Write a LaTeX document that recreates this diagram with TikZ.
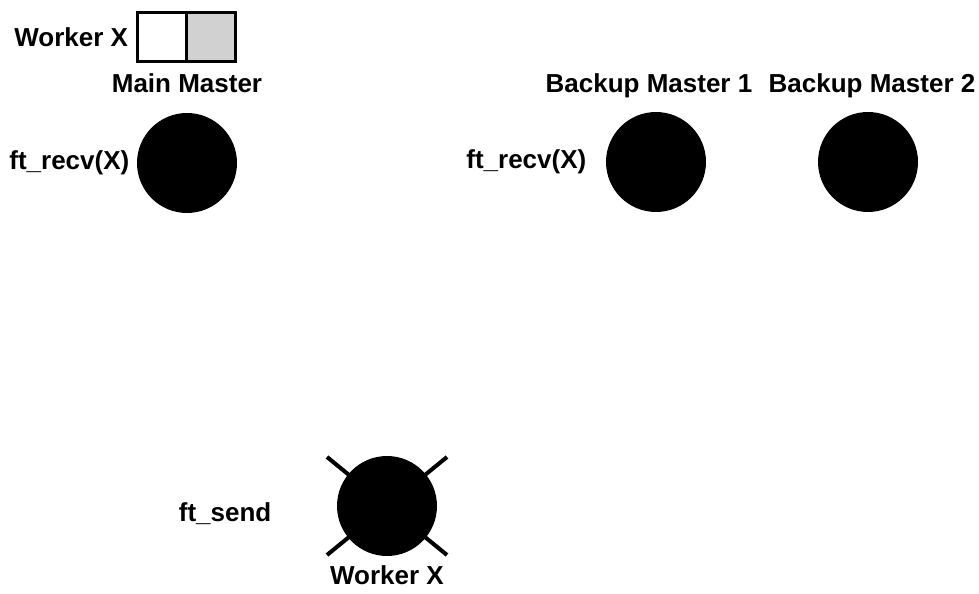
\documentclass[tikz,border=0pt]{standalone}
\usepackage{fontspec}
\setmainfont{Liberation Sans}
\usetikzlibrary{positioning,calc}

\begin{document}
\begin{tikzpicture}[x=0.02cm, y=-0.02cm,
                    master/.style={circle, fill=black, inner sep=0pt, minimum size=2cm},
                    lbl/.style={font=\fontsize{14.8}{18}\selectfont\bfseries, inner sep=0pt},
                    cell/.style={draw, line width=1.2pt, minimum size=0.98cm, inner sep=0pt},
                    cross/.style={line width=2.3pt}]
    \useasboundingbox (0,0) rectangle (979,594);
    % worker X state boxes
    \node[cell] (free) at (162,37) {};
    \node[cell, fill=black!18, right=-1.2pt of free] (busy) {};
    \node[lbl, left=0.16cm of free] (wlbl) {Worker X};
    % masters
    \node[master] (main) at (187,163) {};
    \node[master] (bk1) at (656,162) {};
    \node[master] (bk2) at (868,162) {};
    \node[lbl, above=0.4cm of main, anchor=base] (mainlbl) {Main Master};
    \node[lbl, above=0.38cm of bk1, anchor=base, xshift=-0.14cm] (bk1lbl) {Backup Master 1};
    \node[lbl, above=0.38cm of bk2, anchor=base, xshift=0.08cm] (bk2lbl) {Backup Master 2};
    \node[lbl, left=0.14cm of main] (recv1) {ft\_recv(X)};
    \node[lbl, left=0.38cm of bk1] (recv2) {ft\_recv(X)};
    % failed worker
    \coordinate (wc) at (387,506);
    \draw[cross] ($(wc)+(-60,-49)$) -- ($(wc)+(60,49)$);
    \draw[cross] ($(wc)+(60,-49)$) -- ($(wc)+(-60,49)$);
    \node[master] (worker) at (wc) {};
    \node[lbl, left=1.3cm of worker, yshift=-0.16cm] (send) {ft\_send};
    \node[lbl, below=0.18cm of worker] (wxlbl) {Worker X};
\end{tikzpicture}
\end{document}
